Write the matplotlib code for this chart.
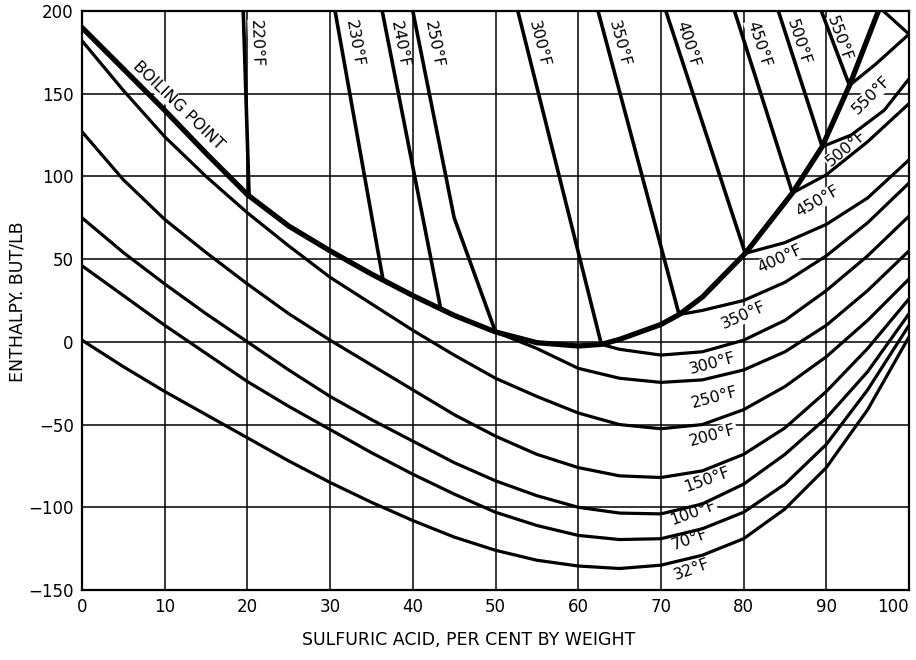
import matplotlib
matplotlib.use("Agg")
import matplotlib.pyplot as plt

# ---------------- data ----------------
x_ticks = [0, 10, 20, 30, 40, 50, 60, 70, 80, 90, 100]
y_ticks = [-150, -100, -50, 0, 50, 100, 150, 200]

# boiling point curve
bp_x = [0, 5, 10, 15, 20, 25, 30, 35, 40, 45, 50, 55, 60, 62.8, 65, 70, 72.2, 75, 80.2, 85.9, 89.5, 92.8, 96.3]
bp_y = [190, 165, 140, 114, 89, 70, 55, 41, 28, 16, 6, -0.5, -2.5, -1.5, 1.5, 10.5, 16.5, 27, 53.5, 90, 118, 155, 200]

# liquid isotherms
xs_full = [0, 5, 10, 15, 20, 25, 30, 35, 40, 45, 50, 55, 60, 65, 70, 75, 80, 85, 90, 95, 100]
t32_y = [1, -15, -30, -44, -58, -72, -85, -97, -108, -118, -126, -132, -135.5, -137, -135, -129, -119, -101, -76, -41, 3]
t70_y = [46, 28, 10, -7, -24, -39, -53, -67, -80, -92, -103, -111, -117, -119.5, -119, -113, -103, -86, -62, -29, 10]
t100_y = [75, 54, 35, 17, 0, -17, -33, -47, -60, -73, -84, -93, -100, -103.5, -104, -98, -86, -68, -46, -18, 17]
t150_y = [127, 98, 74, 54, 35, 17, 1, -14, -29, -44, -57, -68, -76, -81, -82, -78, -68, -52, -30, -4, 26]
t200_y = [182, 152, 124, 100, 78, 58, 39, 23, 7, -8, -22, -33, -43, -50, -52.5, -50, -41, -27, -9, 13, 38]
t250_x = [50, 53, 55, 60, 65, 70, 75, 80, 85, 90, 95, 100]
t250_y = [6, 0, -4, -16, -22, -24.5, -23, -17, -6, 10, 31, 55]
t300_x = [62.8, 65, 70, 75, 80, 85, 90, 95, 100]
t300_y = [-1.5, -4.5, -8, -6, 1, 13, 31, 52, 76]
t350_x = [72.2, 75, 80, 85, 90, 95, 100]
t350_y = [16.5, 19, 25, 36, 52, 72, 96]
t400_x = [80.2, 85, 90, 95, 100]
t400_y = [53.5, 60, 71, 87, 110]
t450_x = [85.9, 90, 95, 100]
t450_y = [90, 101, 121, 144]
t500_x = [89.5, 93, 97, 100]
t500_y = [118, 125, 140, 159]
t550_x = [92.8, 96, 100]
t550_y = [155, 168, 186]
extra_x = [96.9, 100]
extra_y = [200, 186]

liquid_curves = [
    (xs_full, t32_y), (xs_full, t70_y), (xs_full, t100_y), (xs_full, t150_y),
    (xs_full, t200_y), (t250_x, t250_y), (t300_x, t300_y), (t350_x, t350_y),
    (t400_x, t400_y), (t450_x, t450_y), (t500_x, t500_y), (t550_x, t550_y),
    (extra_x, extra_y),
]

# vapor (constant boiling temperature) lines
vap_220_x = [19.5, 20.2]; vap_220_y = [200, 89]
vap_230_x = [30.6, 36.4]; vap_230_y = [200, 37.5]
vap_240_x = [36.3, 43.4]; vap_240_y = [200, 19.4]
vap_250_x = [40.0, 45.0, 50.0]; vap_250_y = [200, 75, 6]
vap_300_x = [52.7, 62.8]; vap_300_y = [200, -1.5]
vap_350_x = [62.4, 72.2]; vap_350_y = [200, 16.5]
vap_400_x = [70.6, 80.2]; vap_400_y = [200, 53.5]
vap_450_x = [78.9, 85.9]; vap_450_y = [200, 90]
vap_500_x = [84.2, 89.5]; vap_500_y = [200, 118]
vap_550_x = [89.4, 92.8]; vap_550_y = [200, 155]
vapor_lines = [
    (vap_220_x, vap_220_y), (vap_230_x, vap_230_y), (vap_240_x, vap_240_y),
    (vap_250_x, vap_250_y), (vap_300_x, vap_300_y), (vap_350_x, vap_350_y),
    (vap_400_x, vap_400_y), (vap_450_x, vap_450_y), (vap_500_x, vap_500_y),
    (vap_550_x, vap_550_y),
]

# labels: text, x, y, rotation
vapor_labels = [
    ("220°F", 21.1, 180, -88), ("230°F", 33.0, 180, -80), ("240°F", 38.4, 180, -79),
    ("250°F", 42.5, 180, -79), ("300°F", 55.3, 180, -76), ("350°F", 65.0, 180, -75),
    ("400°F", 73.3, 180, -72), ("450°F", 81.8, 180, -72), ("500°F", 86.6, 181, -72),
    ("550°F", 91.6, 183, -70),
]
liquid_labels = [
    ("550°F", 95.4, 149, 45), ("500°F", 92.4, 117, 40), ("450°F", 89.0, 85, 30),
    ("400°F", 84.4, 50, 25), ("350°F", 80.0, 16, 24), ("300°F", 76.3, -13, 15),
    ("250°F", 76.5, -33.5, 15), ("200°F", 76.3, -56.5, 15), ("150°F", 75.6, -83.5, 20),
    ("100°F", 73.9, -103.5, 20), ("70°F", 73.5, -119.5, 20), ("32°F", 73.7, -137.5, 20),
]
bp_label = ("BOILING POINT", 11.6, 143, -44)

# ---------------- drawing ----------------
plt.rcParams['font.family'] = ['DejaVu Sans']
fig = plt.figure(figsize=(9.16, 6.6), dpi=100)
ax = fig.add_axes([82/916, 1-590/660, (909-82)/916, (590-11)/660])
ax.set_xlim(0, 100)
ax.set_ylim(-150, 200)
ax.set_xticks(x_ticks)
ax.set_yticks(y_ticks)
ax.grid(True, color='black', linewidth=1.1, zorder=1)
ax.set_axisbelow(True)
ax.tick_params(length=0, labelsize=12, pad=6)
for s in ax.spines.values():
    s.set_linewidth(1.6)
    s.set_zorder(6)
xtl = ax.get_xticklabels()
xtl[-1].set_horizontalalignment('right')
xtl[-1].set_x(1.0)

for cx, cy in liquid_curves:
    ax.plot(cx, cy, color='black', linewidth=2.3, zorder=4, solid_capstyle='butt')
for cx, cy in vapor_lines:
    ax.plot(cx, cy, color='black', linewidth=2.6, zorder=4, solid_capstyle='butt')
ax.plot(bp_x, bp_y, color='black', linewidth=3.8, zorder=5)

box = dict(facecolor='white', edgecolor='none', pad=0.6)
for t, lx, ly, r in vapor_labels + liquid_labels:
    ax.text(lx, ly, t, rotation=r, ha='center', va='center', fontsize=11.5,
            rotation_mode='anchor', bbox=box, zorder=3)
t, lx, ly, r = bp_label
ax.text(lx, ly, t, rotation=r, ha='center', va='center', fontsize=11.5,
        rotation_mode='anchor', bbox=box, zorder=3)

fig.text(18/916, 1-302/660, "ENTHALPY. BUT/LB", rotation=90, ha='center', va='center', fontsize=12.5)
fig.text(469/916, 1-640/660, "SULFURIC ACID, PER CENT BY WEIGHT", ha='center', va='center', fontsize=12.5)

fig.savefig("out.png", dpi=100)
